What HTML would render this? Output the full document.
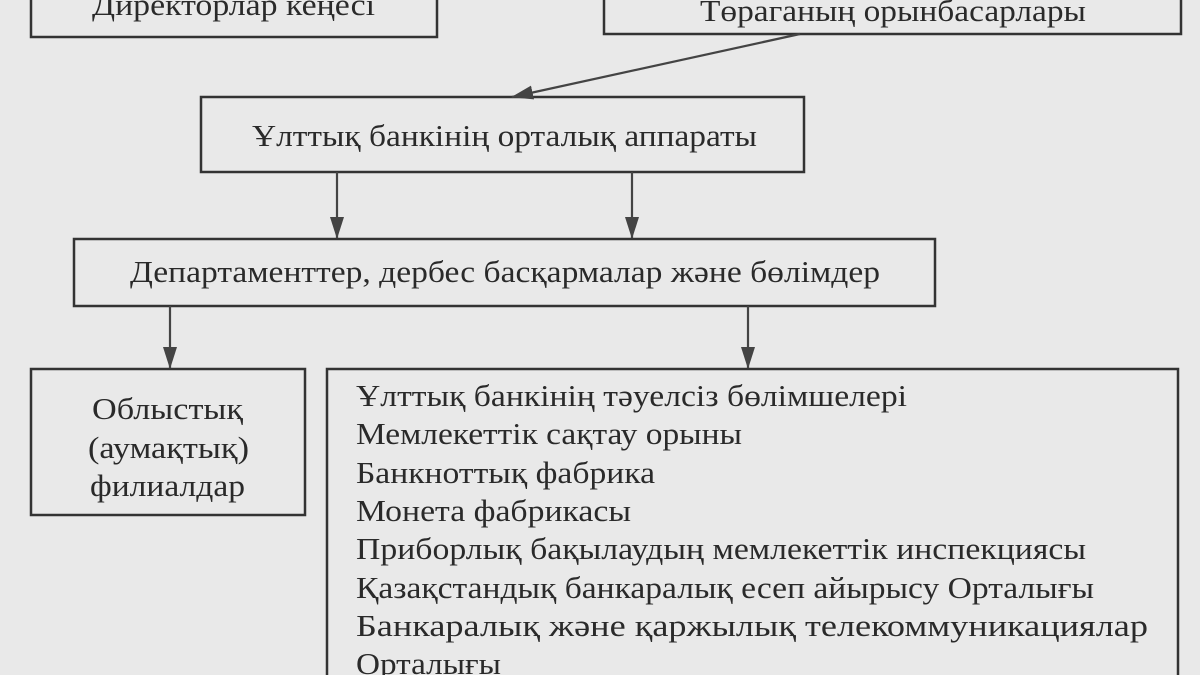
<!DOCTYPE html>
<html><head><meta charset="utf-8"><style>
html,body{margin:0;padding:0;background:#e9e9e9;}
svg{display:block}
text{font-family:"Liberation Serif",serif;font-size:31px;fill:#2a2a2a;}
</style></head><body>
<svg width="1200" height="675" viewBox="0 0 1200 675" xmlns="http://www.w3.org/2000/svg">
<defs><marker id="a" markerWidth="22" markerHeight="14" refX="21" refY="7" orient="auto" markerUnits="userSpaceOnUse"><path d="M0,0 L22,7 L0,14 z" fill="#444"/></marker></defs>
<rect width="1200" height="675" fill="#e9e9e9"/>
<g fill="none" stroke="#333" stroke-width="2.5">
<rect x="31" y="-10" width="406" height="47"/>
<rect x="604" y="-10" width="577" height="44"/>
<rect x="201" y="97" width="603" height="75"/>
<rect x="74" y="239" width="861" height="67"/>
<rect x="31" y="369" width="274" height="146"/>
<rect x="327" y="369" width="851" height="320"/>
</g>
<g stroke="#444" stroke-width="2.2" marker-end="url(#a)">
<line x1="800" y1="34" x2="512" y2="97"/>
<line x1="337" y1="172" x2="337" y2="238"/>
<line x1="632" y1="172" x2="632" y2="238"/>
<line x1="170" y1="306" x2="170" y2="368"/>
<line x1="748" y1="306" x2="748" y2="368"/>
</g>
<text x="92" y="15" textLength="283" lengthAdjust="spacingAndGlyphs">Директорлар кеңесі</text>
<text x="700" y="21" textLength="386" lengthAdjust="spacingAndGlyphs">Төраганың орынбасарлары</text>
<text x="252" y="146" textLength="505" lengthAdjust="spacingAndGlyphs">Ұлттық банкінің орталық аппараты</text>
<text x="130" y="282" textLength="750" lengthAdjust="spacingAndGlyphs">Департаменттер, дербес басқармалар және бөлімдер</text>
<text x="92" y="419" textLength="151" lengthAdjust="spacingAndGlyphs">Облыстық</text>
<text x="88" y="458" textLength="161" lengthAdjust="spacingAndGlyphs">(аумақтық)</text>
<text x="90" y="496" textLength="155" lengthAdjust="spacingAndGlyphs">филиалдар</text>
<text x="356" y="406" textLength="551" lengthAdjust="spacingAndGlyphs">Ұлттық банкінің тәуелсіз бөлімшелері</text>
<text x="356" y="444" textLength="386" lengthAdjust="spacingAndGlyphs">Мемлекеттік сақтау орыны</text>
<text x="356" y="483" textLength="299" lengthAdjust="spacingAndGlyphs">Банкноттық фабрика</text>
<text x="356" y="521" textLength="275" lengthAdjust="spacingAndGlyphs">Монета фабрикасы</text>
<text x="356" y="559" textLength="730" lengthAdjust="spacingAndGlyphs">Приборлық бақылаудың мемлекеттік инспекциясы</text>
<text x="356" y="598" textLength="738" lengthAdjust="spacingAndGlyphs">Қазақстандық банкаралық есеп айырысу Орталығы</text>
<text x="356" y="636" textLength="792" lengthAdjust="spacingAndGlyphs">Банкаралық  және  қаржылық  телекоммуникациялар</text>
<text x="356" y="674" textLength="145" lengthAdjust="spacingAndGlyphs">Орталығы</text>
</svg>
</body></html>
